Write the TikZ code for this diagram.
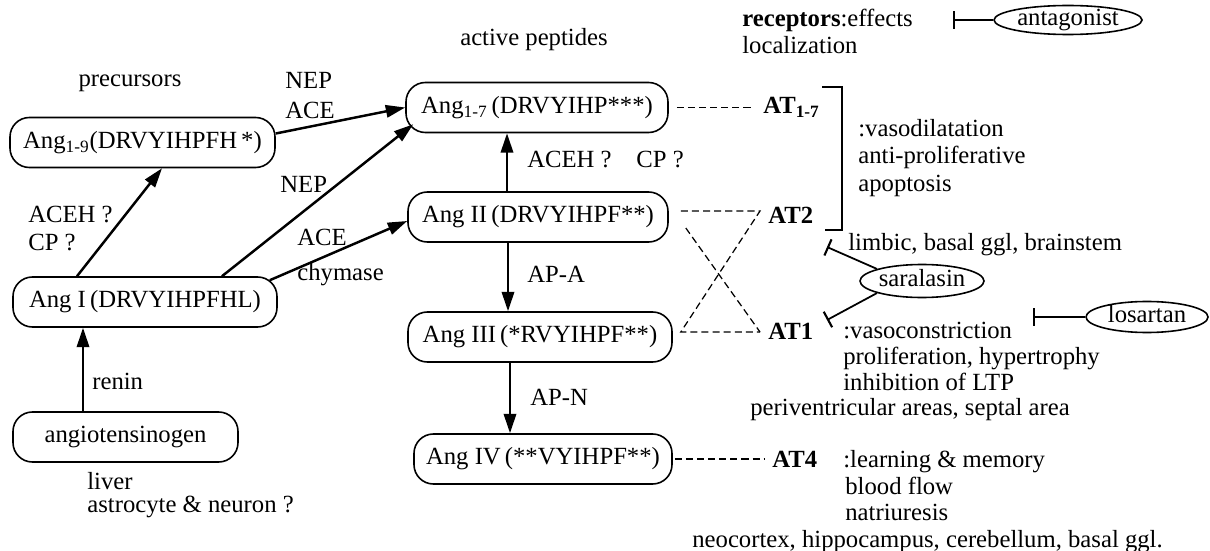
\documentclass[tikz,border=0pt]{standalone}
\usepackage{fontspec}
\setmainfont{Liberation Serif}
\usetikzlibrary{arrows.meta,shapes.geometric,calc}
\def\pxu{0.567pt}
\begin{document}
\begin{tikzpicture}[x=0.567pt,y=-0.567pt,
  font=\fontsize{14}{16}\selectfont,
  pepbox/.style={draw,line width=0.9pt,rounded corners=11pt,minimum height=50*\pxu,inner sep=0pt},
  oval/.style={draw,ellipse,line width=0.9pt,inner sep=0pt,text height=7pt,text depth=1pt},
  lbl/.style={anchor=base west,inner sep=0pt},
  clbl/.style={anchor=base,inner sep=0pt},
  arr/.style={line width=1.4pt,-{Triangle[length=11pt,width=7pt]}},
  dsh/.style={line width=0.7pt,dash pattern=on 4pt off 2.3pt},
  inh/.style={line width=1pt,-{Bar[width=10pt,line width=1.2pt]}},
]
\useasboundingbox (0,0) rectangle (1210,551);

% peptide boxes
\node[pepbox,minimum width=265*\pxu] (n19) at (142.5,142.5) {Ang\textsubscript{1-9}(DRVYIHPFH\,*)};
\node[pepbox,minimum width=264*\pxu] (nI) at (145,302) {Ang I\,(DRVYIHPFHL)};
\node[pepbox,minimum width=225*\pxu] (nAgt) at (125.5,437) {angiotensinogen};
\node[pepbox,minimum width=262*\pxu] (n17) at (537,107.5) {Ang\textsubscript{1-7}\,(DRVYIHP***)};
\node[pepbox,minimum width=260*\pxu] (nII) at (538,217) {Ang II\,(DRVYIHPF**)};
\node[pepbox,minimum width=264*\pxu] (nIII) at (540,337) {Ang III\,(*RVYIHPF**)};
\node[pepbox,minimum width=258*\pxu] (nIV) at (543,459) {Ang IV\,(**VYIHPF**)};

% arrows
\draw[arr] ($(nI.north)+(-68,0)$) -- ($(n19.south)+(19.5,0)$);
\draw[arr] ($(n19.east)+(0,-9)$) -- (n17.west);
\draw[arr] ($(nI.north)+(77,0)$) -- ($(n17.south west)+(8,-9)$);
\draw[arr] ($(nI.north east)+(-8,4)$) -- ($(nII.west)+(0,4)$);
\draw[arr] ($(nII.north)+(-31,0)$) -- ($(n17.south)+(-30,0)$);
\draw[arr] ($(nII.south)+(-30,0)$) -- ($(nIII.north)+(-32,0)$);
\draw[arr] ($(nIII.south)+(-30,0)$) -- ($(nIV.north)+(-33,0)$);
\draw[arr] ($(nAgt.north)+(-42.5,0)$) -- ($(nI.south)+(-62,0)$);

% labels left and middle
\node[clbl] (tPre) at (130,87) {precursors};
\node[clbl] (tAct) at (534,46) {active peptides};
\node[lbl] (tNEP1) at (285,89) {NEP};
\node[lbl] (tACE1) at (285,119) {ACE};
\node[lbl] (tNEP2) at (280,192) {NEP};
\node[lbl] (tACE2) at (297,245) {ACE};
\node[lbl] (tChy) at (297,280) {chymase};
\node[lbl] (tACEH) at (28,222) {ACEH ?};
\node[lbl] (tCP) at (28,250) {CP ?};
\node[lbl] (tRen) at (92,389) {renin};
\node[lbl] (tLiv) at (87,489) {liver};
\node[lbl] (tAst) at (87,512) {astrocyte \& neuron ?};
\node[lbl] (tACEH2) at (527,167) {ACEH ?\quad CP ?};
\node[lbl] (tAPA) at (527,282) {AP-A};
\node[lbl] (tAPN) at (530,405) {AP-N};

% receptors
\node[lbl] (tRec) at (742,27) {\textbf{receptors}:effects};
\node[lbl] (tLoc) at (742,54) {localization};
\node[lbl] (AT17) at (763,114) {\textbf{AT\textsubscript{1-7}}};
\node[lbl] (AT2) at (768,224) {\textbf{AT2}};
\node[lbl] (AT1) at (768,339) {\textbf{AT1}};
\node[lbl] (AT4) at (772,467) {\textbf{AT4}};

\node[lbl] (e1) at (858,137) {:vasodilatation};
\node[lbl] (e2) at (858,164) {anti-proliferative};
\node[lbl] (e3) at (858,191) {apoptosis};
\node[lbl] (l2) at (848,250) {limbic, basal ggl, brainstem};
\node[lbl] (e4) at (843,338) {:vasoconstriction};
\node[lbl] (e5) at (843,364) {proliferation, hypertrophy};
\node[lbl] (e6) at (843,390) {inhibition of LTP};
\node[lbl] (l1) at (750,415) {periventricular areas, septal area};
\node[lbl] (e7) at (843,467) {:learning \& memory};
\node[lbl] (e8) at (845,494) {blood flow};
\node[lbl] (e9) at (845,520) {natriuresis};
\node[lbl] (l4) at (692,547) {neocortex, hippocampus, cerebellum, basal ggl.};

% bracket
\draw[line width=0.9pt] (822,87) -- (842,87) -- (842,230) -- (825,230);

% dashed receptor links
\coordinate (c17) at (753,107.5);
\coordinate (c2) at (760,211);
\coordinate (c1) at (760,332);
\coordinate (c4) at (765,459);
\draw[dsh] ($(n17.east)+(8,0)$) -- (c17);
\draw[dsh] ($(nII.east)+(12,-6)$) -- (c2) -- ($(nIII.east)+(8,-5)$) -- (c1);
\draw[dsh] ($(nII.east)+(17,11)$) -- (c1);
\draw[dsh] ($(nIV.east)+(2,0)$) -- (c4);

% antagonists
\node[oval,minimum width=148*\pxu,minimum height=29*\pxu] (ant) at (1068,20) {antagonist};
\node[oval,minimum width=124*\pxu,minimum height=33*\pxu] (sar) at (922,281) {saralasin};
\node[oval,minimum width=122*\pxu,minimum height=31*\pxu] (los) at (1147,317) {losartan};
\coordinate (bAnt) at (953,20);
\coordinate (bAT2) at (827,247);
\coordinate (bAT1) at (827,320);
\coordinate (bLos) at (1033,317);
\draw[inh] (ant.west) -- (bAnt);
\draw[inh] (sar.165) -- (bAT2);
\draw[inh] (sar.195) -- (bAT1);
\draw[inh] (los.west) -- (bLos);
\end{tikzpicture}
\end{document}
